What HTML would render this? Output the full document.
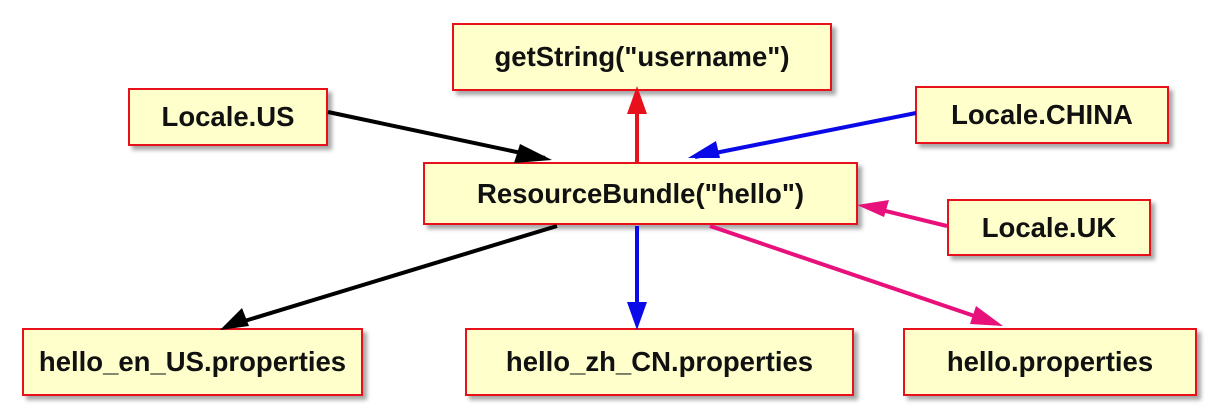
<!DOCTYPE html>
<html><head><style>
body{margin:0;background:#fff;width:1220px;height:412px;overflow:hidden;position:relative;font-family:"Liberation Sans",Arial,sans-serif}
.b{position:absolute;background:#ffffcc;border:2.5px solid #e8101a;box-sizing:border-box;display:flex;align-items:center;justify-content:center;font-weight:bold;font-size:27.5px;color:#111;box-shadow:4px 4px 4px rgba(0,0,0,.35);white-space:nowrap}
svg{position:absolute;left:0;top:0}
</style></head><body>
<div class="b" style="left:452px;top:23px;width:380px;height:68px">getString("username")</div>
<div class="b" style="left:423px;top:162px;width:435px;height:63px">ResourceBundle("hello")</div>
<div class="b" style="left:128px;top:88px;width:200px;height:58px">Locale.US</div>
<div class="b" style="left:915px;top:86px;width:254px;height:58px">Locale.CHINA</div>
<div class="b" style="left:947px;top:199px;width:204px;height:57px">Locale.UK</div>
<div class="b" style="left:22px;top:328px;width:341px;height:68px">hello_en_US.properties</div>
<div class="b" style="left:465px;top:328px;width:389px;height:68px">hello_zh_CN.properties</div>
<div class="b" style="left:903px;top:328px;width:294px;height:68px">hello.properties</div>
<svg width="1220" height="412">
<g stroke-width="4" fill="none">
<line x1="328" y1="112" x2="545" y2="158" stroke="#000"/>
<line x1="637" y1="162" x2="637" y2="95" stroke="#e8101a"/>
<line x1="916" y1="113" x2="695" y2="157" stroke="#0a0ae8"/>
<line x1="947" y1="226" x2="865" y2="206" stroke="#e8107a"/>
<line x1="557" y1="226" x2="228" y2="326" stroke="#000"/>
<line x1="637" y1="226" x2="637" y2="320" stroke="#0a0ae8"/>
<line x1="710" y1="226" x2="995" y2="323" stroke="#e8107a"/>
</g>
<polygon points="552,160 514,163 520,144" fill="#000"/>
<polygon points="637,86 627,114 647,114" fill="#e8101a"/>
<polygon points="688,158 716,141 720,158" fill="#0a0ae8"/>
<polygon points="857,205 889,200 884,217" fill="#e8107a"/>
<polygon points="220,330 242,308 249,326" fill="#000"/>
<polygon points="637,330 627,302 647,302" fill="#0a0ae8"/>
<polygon points="1003,326 970,324 976,306" fill="#e8107a"/>
</svg>
</body></html>
